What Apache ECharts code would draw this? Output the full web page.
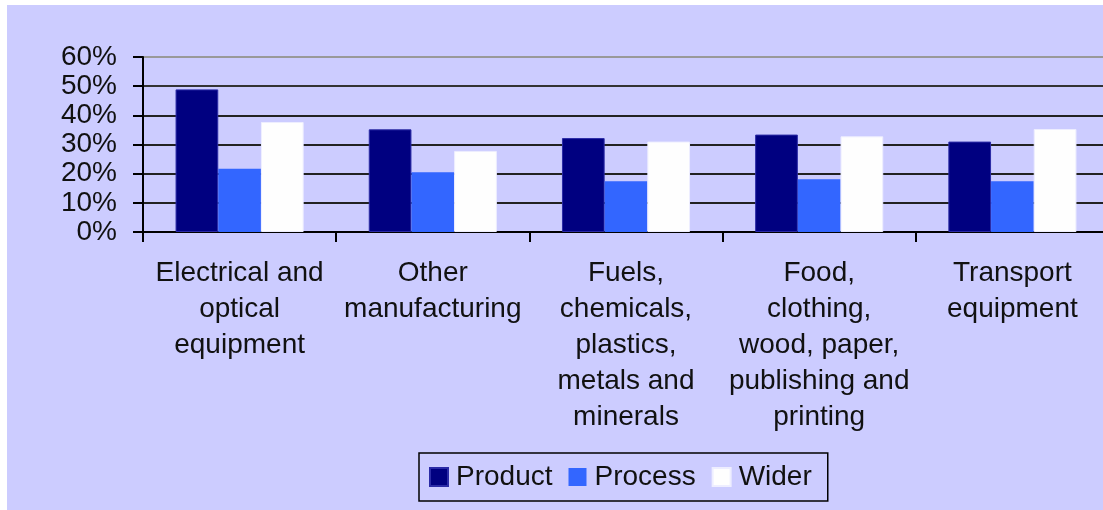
<!DOCTYPE html>
<html>
<head>
<meta charset="utf-8">
<script src="https://cdn.jsdelivr.net/npm/echarts@6/dist/echarts.min.js"></script>
<style>
  html, body { margin: 0; padding: 0; background: #fff; }
  #chart { position: absolute; left: 7px; top: 5px; width: 1096px; height: 505px; background: #ccccff; }
</style>
</head>
<body>
<div id="chart"></div>
<script>
  // values, in percent
  const categories = [
    'Electrical and\noptical\nequipment',
    'Other\nmanufacturing',
    'Fuels,\nchemicals,\nplastics,\nmetals and\nminerals',
    'Food,\nclothing,\nwood, paper,\npublishing and\nprinting',
    'Transport\nequipment'
  ];
  const product = [48.9, 35.2, 32.2, 33.4, 31.0];
  const process = [21.7, 20.5, 17.4, 18.1, 17.4];
  const wider = [37.7, 27.8, 31.0, 32.8, 35.3];
  const yTicks = [0, 10, 20, 30, 40, 50, 60];

  const font = '"Liberation Sans", Arial, sans-serif';
  const chart = echarts.init(document.getElementById('chart'));

  chart.setOption({
    animation: false,
    textStyle: { fontFamily: font },
    // plot area runs a few px past the right edge, as in the original
    grid: {
      left: 136, top: 52, width: 966, height: 175,
      containLabel: false,
      outerBoundsMode: 'none'
    },
    legend: {
      data: ['Product', 'Process', 'Wider'],
      left: 412,
      top: 448,
      icon: 'rect',
      itemWidth: 18,
      itemHeight: 18,
      itemGap: 16,
      padding: [10, 16, 10, 10],
      borderColor: '#000',
      borderWidth: 1.5,
      textStyle: { fontSize: 28, lineHeight: 28, color: '#111', fontFamily: font, padding: [0, 0, 0, 3] }
    },
    xAxis: {
      type: 'category',
      data: categories,
      axisLine: { lineStyle: { color: '#000', width: 2 } },
      axisTick: { show: true, length: 10, lineStyle: { color: '#000', width: 2 } },
      axisLabel: {
        interval: 0,
        fontSize: 28,
        lineHeight: 36,
        margin: 23,
        color: '#111',
        fontFamily: font,
        align: 'center'
      }
    },
    yAxis: {
      type: 'value',
      min: yTicks[0],
      max: yTicks[yTicks.length - 1],
      interval: 10,
      axisLine: { show: true, lineStyle: { color: '#000', width: 2 } },
      axisTick: { show: true, length: 10, lineStyle: { color: '#000', width: 2 } },
      axisLabel: {
        fontSize: 28,
        margin: 26,
        color: '#111',
        fontFamily: font,
        formatter: v => v + '%'
      },
      splitLine: {
        show: true,
        lineStyle: {
          width: 2,
          color: ['#222', '#222', '#222', '#222', '#222', '#333', '#999']
        }
      }
    },
    series: [
      {
        name: 'Product',
        type: 'bar',
        data: product,
        barGap: '0%',
        barCategoryGap: '33.7%',
        itemStyle: { color: '#000080', borderColor: '#2b2ba6', borderWidth: 1 }
      },
      {
        name: 'Process',
        type: 'bar',
        data: process,
        itemStyle: { color: '#3366ff' }
      },
      {
        name: 'Wider',
        type: 'bar',
        data: wider,
        itemStyle: { color: '#fefefe', borderColor: '#eeeeff', borderWidth: 1 }
      }
    ]
  });
</script>
</body>
</html>
